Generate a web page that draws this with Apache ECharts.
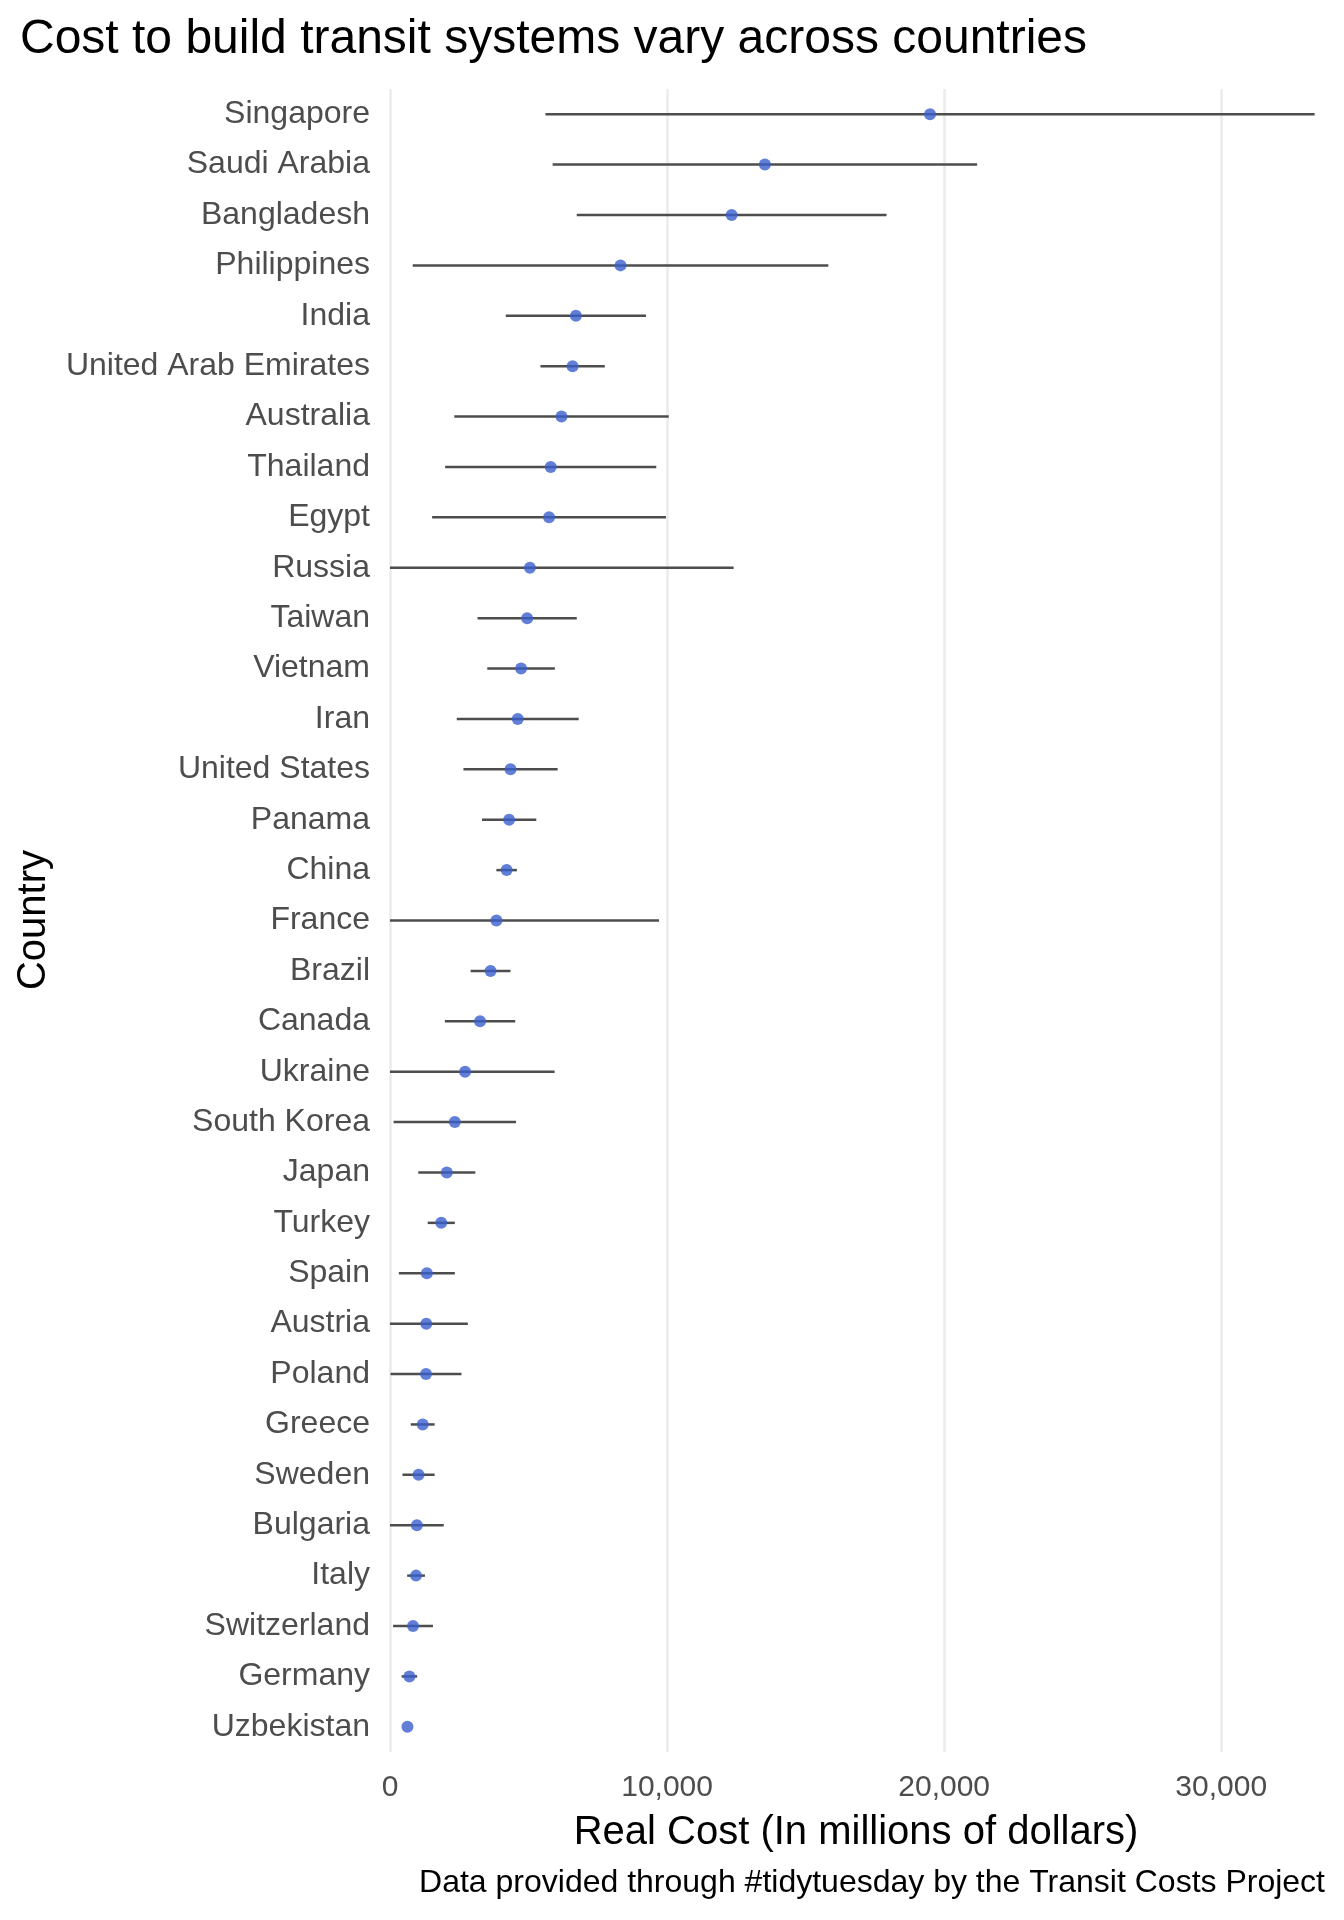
<!DOCTYPE html>
<html>
<head>
<meta charset="utf-8">
<script src="https://cdn.jsdelivr.net/npm/echarts@6/dist/echarts.min.js"></script>
<style>
  html, body { margin: 0; padding: 0; background: #ffffff; }
  #chart { width: 1344px; height: 1920px; }
</style>
</head>
<body>
<div id="chart"></div>
<script>
// Countries, top to bottom
const countries = ["Singapore", "Saudi Arabia", "Bangladesh", "Philippines", "India",
  "United Arab Emirates", "Australia", "Thailand", "Egypt", "Russia", "Taiwan", "Vietnam",
  "Iran", "United States", "Panama", "China", "France", "Brazil", "Canada", "Ukraine",
  "South Korea", "Japan", "Turkey", "Spain", "Austria", "Poland", "Greece", "Sweden",
  "Bulgaria", "Italy", "Switzerland", "Germany", "Uzbekistan"];

// Mean real cost (millions of dollars)
const meanCost = [19490, 13530, 12330, 8320, 6710,
  6590, 6190, 5800, 5740, 5050, 4950, 4730,
  4610, 4350, 4300, 4210, 3840, 3630, 3250, 2710,
  2340, 2050, 1850, 1330, 1310, 1300, 1180, 1030,
  970, 940, 830, 700, 630];

// Half-width of the horizontal range (mean +/- spread)
const spread = [13880, 7660, 5590, 7500, 2530,
  1160, 3870, 3810, 4220, 7350, 1790, 1220,
  2200, 1700, 980, 370, 5870, 720, 1270, 3230,
  2210, 1030, 490, 1010, 1500, 1280, 430, 580,
  970, 320, 720, 280, 0];

const xTicks = [0, 10000, 20000, 30000];

const FONT = "Liberation Sans, Arial, Helvetica, sans-serif";

const chart = echarts.init(document.getElementById('chart'), null, { renderer: 'canvas' });

const rangeData = countries.map((c, i) => [i, meanCost[i] - spread[i], meanCost[i] + spread[i]]);
const pointData = countries.map((c, i) => [meanCost[i], c]);

const option = {
  backgroundColor: '#ffffff',
  animation: false,
  grid: { left: 390, right: 23, top: 89, bottom: 168, containLabel: false },
  xAxis: {
    type: 'value',
    min: 0,
    max: 33600,
    interval: 10000,
    axisLine: { show: false },
    axisTick: { show: false },
    axisLabel: {
      fontSize: 30, color: '#4d4d4d', fontFamily: FONT, margin: 21,
      showMaxLabel: false,
      formatter: v => xTicks.indexOf(v) >= 0 ? v.toLocaleString('en-US') : ''
    },
    splitLine: { show: true, showMaxLine: false, lineStyle: { color: '#ebebeb', width: 2.5 } }
  },
  yAxis: {
    type: 'category',
    data: countries,
    inverse: true,
    axisLine: { show: false },
    axisTick: { show: false },
    splitLine: { show: false },
    axisLabel: { fontSize: 32, color: '#4d4d4d', fontFamily: FONT, margin: 20, padding: [6, 0, 0, 0] }
  },
  series: [
    {
      type: 'custom',
      clip: true,
      data: rangeData,
      encode: { y: 0, x: [1, 2] },
      renderItem: function (params, api) {
        const idx = api.value(0);
        const lo = api.value(1);
        const hi = api.value(2);
        if (hi - lo <= 0) return null;
        const p1 = api.coord([lo, idx]);
        const p2 = api.coord([hi, idx]);
        return {
          type: 'line',
          shape: { x1: p1[0], y1: p1[1], x2: p2[0], y2: p2[1] },
          style: { stroke: '#4d4d4d', lineWidth: 2.5 }
        };
      },
      z: 2
    },
    {
      type: 'scatter',
      data: pointData,
      symbol: 'circle',
      symbolSize: 12,
      itemStyle: { color: '#3a5fcd' },
      z: 3
    }
  ],
  graphic: [
    {
      type: 'text', x: 20, y: 40,
      style: { text: 'Cost to build transit systems vary across countries', font: '48px ' + FONT,
        fill: '#000000', align: 'left', verticalAlign: 'middle', textAlign: 'left', textVerticalAlign: 'middle' }
    },
    {
      type: 'text', x: 34, y: 920, rotation: Math.PI / 2,
      style: { text: 'Country', font: '40px ' + FONT, fill: '#000000',
        align: 'center', verticalAlign: 'middle', textAlign: 'center', textVerticalAlign: 'middle' }
    },
    {
      type: 'text', x: 856, y: 1833,
      style: { text: 'Real Cost (In millions of dollars)', font: '40px ' + FONT, fill: '#000000',
        align: 'center', verticalAlign: 'middle', textAlign: 'center', textVerticalAlign: 'middle' }
    },
    {
      type: 'text', x: 1325, y: 1883,
      style: { text: 'Data provided through #tidytuesday by the Transit Costs Project', font: '32px ' + FONT,
        fill: '#000000', align: 'right', verticalAlign: 'middle', textAlign: 'right', textVerticalAlign: 'middle' }
    }
  ]
};

chart.setOption(option);
</script>
</body>
</html>
